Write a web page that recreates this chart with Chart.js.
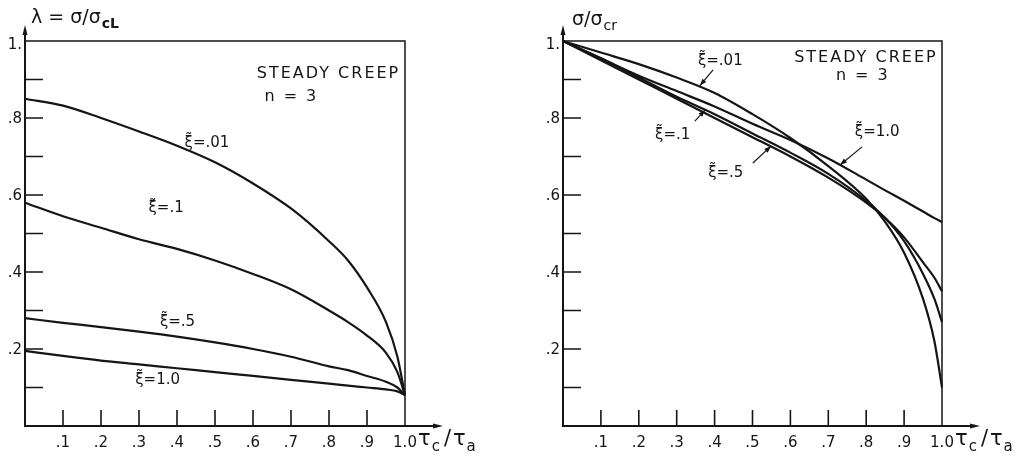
<!DOCTYPE html>
<html>
<head>
<meta charset="utf-8">
<script src="https://cdn.jsdelivr.net/npm/chart.js@4/dist/chart.umd.min.js"></script>
<style>
  html, body { margin: 0; padding: 0; background: #fff; }
  #wrap { position: relative; width: 1029px; height: 456px; overflow: hidden; }
  canvas { position: absolute; top: 0; }
</style>
</head>
<body>
<div id="wrap">
  <canvas id="lambdaChart" width="514" height="456" style="left:0;width:514px;height:456px"></canvas>
  <canvas id="ratioChart" width="515" height="456" style="left:514px;width:515px;height:456px"></canvas>
</div>
<script>
// Stress-ratio decay with dimensionless time, steady creep, n = 3
const tau = [0, 0.1, 0.2, 0.3, 0.4, 0.5, 0.6, 0.7, 0.8, 0.85, 0.9, 0.95, 0.98, 1.0];

// lambda = sigma / sigma_cL
const lambdaXi001 = [0.85, 0.832, 0.80, 0.765, 0.728, 0.685, 0.63, 0.565, 0.48, 0.43, 0.36, 0.27, 0.18, 0.08];
const lambdaXi01  = [0.58, 0.545, 0.515, 0.485, 0.46, 0.43, 0.395, 0.355, 0.30, 0.27, 0.235, 0.19, 0.14, 0.08];
const lambdaXi05  = [0.28, 0.268, 0.257, 0.245, 0.232, 0.217, 0.20, 0.18, 0.155, 0.145, 0.13, 0.115, 0.10, 0.08];
const lambdaXi10  = [0.195, 0.182, 0.17, 0.16, 0.15, 0.14, 0.13, 0.12, 0.11, 0.105, 0.10, 0.095, 0.09, 0.08];

// sigma / sigma_cr
const ratioXi001 = [1.0, 0.97, 0.94, 0.905, 0.865, 0.81, 0.748, 0.675, 0.59, 0.53, 0.45, 0.33, 0.22, 0.10];
const ratioXi01  = [1.0, 0.955, 0.905, 0.855, 0.81, 0.76, 0.71, 0.655, 0.585, 0.54, 0.48, 0.395, 0.33, 0.27];
const ratioXi05  = [1.0, 0.95, 0.90, 0.85, 0.80, 0.75, 0.70, 0.645, 0.58, 0.54, 0.49, 0.425, 0.385, 0.35];
const ratioXi10  = [1.0, 0.955, 0.91, 0.87, 0.83, 0.785, 0.743, 0.695, 0.64, 0.612, 0.585, 0.557, 0.54, 0.53];

// axis ticks and labels
const xTickMarks = [0.1, 0.2, 0.3, 0.4, 0.5, 0.6, 0.7, 0.8, 0.9];
const xTickValues = [0.1, 0.2, 0.3, 0.4, 0.5, 0.6, 0.7, 0.8, 0.9, 1.0];
const xTickLabels = ['.1', '.2', '.3', '.4', '.5', '.6', '.7', '.8', '.9', '1.0'];
const yTickMarks = [0.1, 0.2, 0.3, 0.4, 0.5, 0.6, 0.7, 0.8, 0.9];
const yTickValues = [0.2, 0.4, 0.6, 0.8, 1.0];
const yTickLabels = ['.2', '.4', '.6', '.8', '1.'];

const XI = '\u03BE\u0303';
const INK = '#151515';
const FONT = '"DejaVu Sans", sans-serif';

function series(values) {
  return {
    data: tau.map((t, i) => ({ x: t, y: values[i] })),
    borderColor: INK,
    borderWidth: 2.2,
    pointRadius: 0,
    fill: false,
    cubicInterpolationMode: 'monotone',
    clip: false
  };
}

// text run with optional subscripts; each part may add extra spacing after it
function drawRich(ctx, parts, x, y, size, subSize) {
  let cx = x;
  for (const p of parts) {
    if (p.sub) {
      ctx.font = (p.bold ? 'bold ' : '') + subSize + 'px ' + FONT;
      ctx.fillText(p.t, cx, y + size * 0.32);
    } else {
      ctx.font = size + 'px ' + FONT;
      ctx.fillText(p.t, cx, y);
    }
    cx += ctx.measureText(p.t).width + (p.gap || 0);
  }
}

function arrowHead(ctx, x1, y1, x2, y2, len, half) {
  const a = Math.atan2(y2 - y1, x2 - x1);
  ctx.beginPath();
  ctx.moveTo(x2, y2);
  ctx.lineTo(x2 - len * Math.cos(a) + half * Math.sin(a), y2 - len * Math.sin(a) - half * Math.cos(a));
  ctx.lineTo(x2 - len * Math.cos(a) - half * Math.sin(a), y2 - len * Math.sin(a) + half * Math.cos(a));
  ctx.closePath();
  ctx.fill();
}

// axes, border, ticks, titles and curve notes drawn on the chart's own scales
const framePlugin = {
  id: 'frame',
  afterDraw(chart, args, o) {
    const { ctx, scales: { x, y } } = chart;
    const X = v => x.getPixelForValue(v);
    const Y = v => y.getPixelForValue(v);
    ctx.save();
    ctx.strokeStyle = INK;
    ctx.fillStyle = INK;
    ctx.lineCap = 'butt';

    // y axis with arrow
    ctx.lineWidth = 2;
    ctx.beginPath();
    ctx.moveTo(X(0), Y(0) + 1);
    ctx.lineTo(X(0), Y(1) - 10);
    ctx.stroke();
    arrowHead(ctx, X(0), Y(1), X(0), Y(1) - 16, 10, 2.5);

    // x axis with arrow
    ctx.beginPath();
    ctx.moveTo(X(0) - 1, Y(0));
    ctx.lineTo(X(1) + 30, Y(0));
    ctx.stroke();
    arrowHead(ctx, X(1), Y(0), X(1) + 38, Y(0), 10, 2.5);

    // top and right border
    ctx.lineWidth = 1.5;
    ctx.beginPath();
    ctx.moveTo(X(0), Y(1));
    ctx.lineTo(X(1), Y(1));
    ctx.lineTo(X(1), Y(0));
    ctx.stroke();

    // inward tick marks
    ctx.lineWidth = 1.6;
    ctx.beginPath();
    for (const v of yTickMarks) { ctx.moveTo(X(0), Y(v)); ctx.lineTo(X(0) + 18, Y(v)); }
    for (const v of xTickMarks) { ctx.moveTo(X(v), Y(0)); ctx.lineTo(X(v), Y(0) - 16); }
    ctx.stroke();

    // tick labels
    ctx.font = '15px ' + FONT;
    ctx.textBaseline = 'middle';
    ctx.textAlign = 'center';
    xTickValues.forEach((v, i) => ctx.fillText(xTickLabels[i], X(v), Y(0) + 17));
    ctx.textAlign = 'right';
    yTickValues.forEach((v, i) => ctx.fillText(yTickLabels[i], X(0) - 3, Y(v) + (v === 1 ? 4 : 1)));

    // axis titles
    ctx.textAlign = 'left';
    drawRich(ctx, [{ t: '\u03C4', gap: 1 }, { t: 'c', sub: true, gap: 4 }, { t: '/', gap: 2 }, { t: '\u03C4', gap: 1 }, { t: 'a', sub: true }],
      X(1) + 13, Y(0) + 14, 21, 15);
    drawRich(ctx, o.yTitle, X(0) + o.yTitleDx, o.yTitleY, 19, 14);

    // panel notes
    ctx.font = '16px ' + FONT;
    ctx.letterSpacing = '2px';
    ctx.textAlign = 'left';
    ctx.fillText('STEADY CREEP', X(o.creep[0]), Y(o.creep[1]));
    ctx.fillText('n = 3', X(o.creep[2]), Y(o.creep[3]));
    ctx.letterSpacing = '0px';

    // curve labels, with leader arrows where given
    ctx.font = '15px ' + FONT;
    for (const n of o.notes) {
      ctx.fillText(XI + '=' + n.text, X(n.at[0]), Y(n.at[1]));
      if (n.arrow) {
        const [a, b, c, d] = n.arrow;
        ctx.lineWidth = 1.2;
        ctx.beginPath();
        ctx.moveTo(X(a), Y(b));
        ctx.lineTo(X(c), Y(d));
        ctx.stroke();
        arrowHead(ctx, X(a), Y(b), X(c), Y(d), 7, 2.5);
      }
    }
    ctx.restore();
  }
};

function makeChart(id, sets, padding, frameOpts) {
  return new Chart(document.getElementById(id), {
    type: 'line',
    data: { datasets: sets.map(series) },
    options: {
      responsive: false,
      animation: false,
      devicePixelRatio: 1,
      layout: { padding },
      scales: {
        x: { type: 'linear', min: 0, max: 1, display: false },
        y: { type: 'linear', min: 0, max: 1, display: false }
      },
      plugins: { legend: { display: false }, tooltip: { enabled: false }, frame: frameOpts }
    },
    plugins: [framePlugin]
  });
}

makeChart('lambdaChart',
  [lambdaXi001, lambdaXi01, lambdaXi05, lambdaXi10],
  { left: 25, top: 41, right: 109, bottom: 30 },
  {
    yTitle: [{ t: '\u03BB = \u03C3/\u03C3', gap: 1 }, { t: 'cL', sub: true, bold: true }],
    yTitleDx: 6,
    yTitleY: 18,
    creep: [0.61, 0.915, 0.63, 0.855],
    notes: [
      { text: '.01', at: [0.42, 0.735] },
      { text: '.1', at: [0.325, 0.565] },
      { text: '.5', at: [0.355, 0.27] },
      { text: '1.0', at: [0.29, 0.12] }
    ]
  });

makeChart('ratioChart',
  [ratioXi001, ratioXi01, ratioXi05, ratioXi10],
  { left: 49, top: 41, right: 87, bottom: 30 },
  {
    yTitle: [{ t: '\u03C3/\u03C3', gap: 1 }, { t: 'cr', sub: true }],
    yTitleDx: 9,
    yTitleY: 20,
    creep: [0.61, 0.955, 0.72, 0.91],
    notes: [
      { text: '.01', at: [0.356, 0.948], arrow: [0.396, 0.925, 0.361, 0.884] },
      { text: '.1', at: [0.243, 0.756], arrow: [0.348, 0.792, 0.375, 0.821] },
      { text: '.5', at: [0.383, 0.657], arrow: [0.501, 0.683, 0.549, 0.727] },
      { text: '1.0', at: [0.77, 0.764], arrow: [0.789, 0.725, 0.731, 0.678] }
    ]
  });
</script>
</body>
</html>
